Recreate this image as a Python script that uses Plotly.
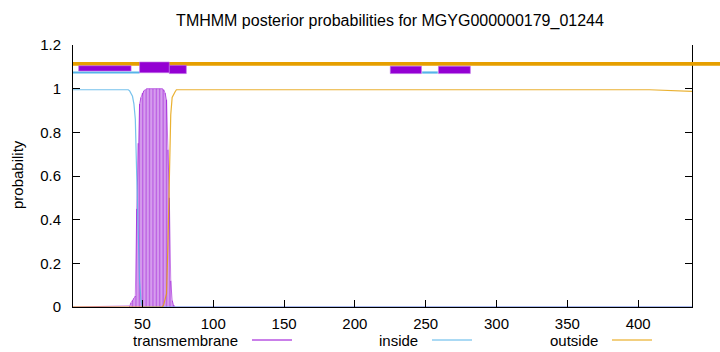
import plotly.graph_objects as go

# ---------------- data ----------------
seq_len = 438
title_text = "TMHMM posterior probabilities for MGYG000000179_01244"

# transmembrane posterior (impulses), residues 41..73
tm_pos = list(range(41, 74))
tm_prob = [0.005, 0.02, 0.03, 0.04, 0.05, 0.45, 0.75, 0.93, 0.96, 0.98,
           0.99, 0.995, 1.0, 1.0, 1.0, 1.0, 1.0, 1.0, 1.0, 1.0,
           1.0, 1.0, 1.0, 1.0, 0.995, 0.98, 0.95, 0.72, 0.5, 0.12,
           0.03, 0.01, 0.0]

# inside posterior (read at breakpoints)
inside_x = [1, 40, 41, 42, 43, 44, 45, 46, 47, 48, 49, 50, seq_len]
inside_y = [0.995, 0.995, 0.99, 0.98, 0.965, 0.93, 0.86, 0.6, 0.3, 0.12, 0.03, 0.0, 0.0]

# outside posterior (read at breakpoints)
outside_x = [1, 64, 65, 66, 67, 68, 69, 70, 71, 72, 73, 74, 408, seq_len]
outside_y = [0.0, 0.0, 0.01, 0.03, 0.06, 0.28, 0.6, 0.88, 0.96, 0.975, 0.985, 0.995, 0.995, 0.988]

# predicted topology bars on top: (start, end, y_low, y_high)
top_outside = (1, 1.105, 1.122)
top_inside = [(1, 48, 1.069, 1.079), (247.5, 258.5, 1.069, 1.079)]
top_tm = [(5, 42, 1.081, 1.105), (48, 69, 1.073, 1.122), (69, 81, 1.069, 1.107),
          (225, 247, 1.069, 1.103), (259, 281.5, 1.069, 1.103)]

x_ticks = [50, 100, 150, 200, 250, 300, 350, 400]
y_ticks = [0, 0.2, 0.4, 0.6, 0.8, 1.0, 1.2]
legend_names = ["transmembrane", "inside", "outside"]

# ---------------- style ----------------
C_TM = "#9400D3"
C_IN = "#56B4E9"
C_OUT = "#E69F00"
FONT = "Liberation Sans, Arial, sans-serif"
FS = 15
W, H = 720, 352
ML, MR, MT, MB = 73, 28, 45, 45
PW, PH = W - ML - MR, H - MT - MB

def px_to_paper_x(px):
    return (px - ML) / PW

def px_to_paper_y(py):
    return (H - MB - py) / PH

# impulses: one vertical segment per residue
imp_x, imp_y = [], []
for p, v in zip(tm_pos, tm_prob):
    imp_x += [p, p, None]
    imp_y += [0, v, None]

fig = go.Figure()
fig.add_trace(go.Scatter(x=imp_x, y=imp_y, mode="lines",
                         line=dict(color=C_TM, width=1.2), opacity=0.6,
                         showlegend=False, connectgaps=False))
fig.add_trace(go.Scatter(x=[1] + tm_pos + [seq_len], y=[0] + tm_prob + [0],
                         mode="lines", line=dict(color=C_TM, width=1),
                         opacity=0.5, showlegend=False))
fig.add_trace(go.Scatter(x=inside_x, y=inside_y, mode="lines",
                         line=dict(color=C_IN, width=1.2), opacity=0.8,
                         showlegend=False))
fig.add_trace(go.Scatter(x=outside_x, y=outside_y, mode="lines",
                         line=dict(color=C_OUT, width=1.2), opacity=0.8,
                         showlegend=False))

shapes = []
# outside line on top (extends past the right border)
shapes.append(dict(type="rect", xref="paper", yref="y",
                   x0=px_to_paper_x(ML), x1=px_to_paper_x(W + 5),
                   y0=top_outside[1], y1=top_outside[2],
                   fillcolor=C_OUT, line=dict(width=0), layer="above"))
for s, e, y0, y1 in top_inside:
    shapes.append(dict(type="rect", xref="x", yref="y", x0=s, x1=e, y0=y0, y1=y1,
                       fillcolor=C_IN, line=dict(width=0), layer="above"))
for s, e, y0, y1 in top_tm:
    shapes.append(dict(type="rect", xref="x", yref="y", x0=s, x1=e, y0=y0, y1=y1,
                       fillcolor=C_TM, line=dict(width=0.6, color="#c070e8"),
                       layer="above"))

# manual key: text then sample line
annotations = []
key_text_right = [240, 420, 600]
key_colors = [C_TM, C_IN, C_OUT]
key_y = px_to_paper_y(340)
for name, xr, col in zip(legend_names, key_text_right, key_colors):
    annotations.append(dict(text=name, xref="paper", yref="paper",
                            x=px_to_paper_x(xr), y=key_y, xanchor="right",
                            yanchor="middle", showarrow=False,
                            font=dict(family=FONT, size=FS, color="black")))
    shapes.append(dict(type="line", xref="paper", yref="paper",
                       x0=px_to_paper_x(xr + 12), x1=px_to_paper_x(xr + 52),
                       y0=key_y, y1=key_y, line=dict(color=col, width=1)))

annotations.append(dict(text="probability", xref="paper", yref="paper",
                        x=px_to_paper_x(17), y=px_to_paper_y(175), textangle=-90,
                        xanchor="center", yanchor="middle", showarrow=False,
                        font=dict(family=FONT, size=FS, color="black")))

fig.update_layout(
    width=W, height=H,
    margin=dict(l=ML, r=MR, t=MT, b=MB, pad=0),
    paper_bgcolor="white", plot_bgcolor="white",
    title=dict(text=title_text, x=390 / W, xref="container", xanchor="center",
               y=1 - 20 / H, yref="container", yanchor="middle",
               font=dict(family=FONT, size=16, color="black")),
    font=dict(family=FONT, size=FS, color="black"),
    showlegend=False,
    shapes=shapes,
    annotations=annotations,
    xaxis=dict(range=[1, seq_len], tickvals=x_ticks, ticks="inside", ticklen=7,
               tickcolor="black", showline=True, linecolor="black", linewidth=1,
               mirror=False, showgrid=False, zeroline=False,
               ticklabelstandoff=3),
    yaxis=dict(range=[0, 1.2], tickvals=y_ticks, ticks="inside", ticklen=7,
               tickcolor="black", showline=True, linecolor="black", linewidth=1,
               mirror="ticks", showgrid=False, zeroline=False,
               ticklabelstandoff=8),
)

fig.write_html("out.html")
